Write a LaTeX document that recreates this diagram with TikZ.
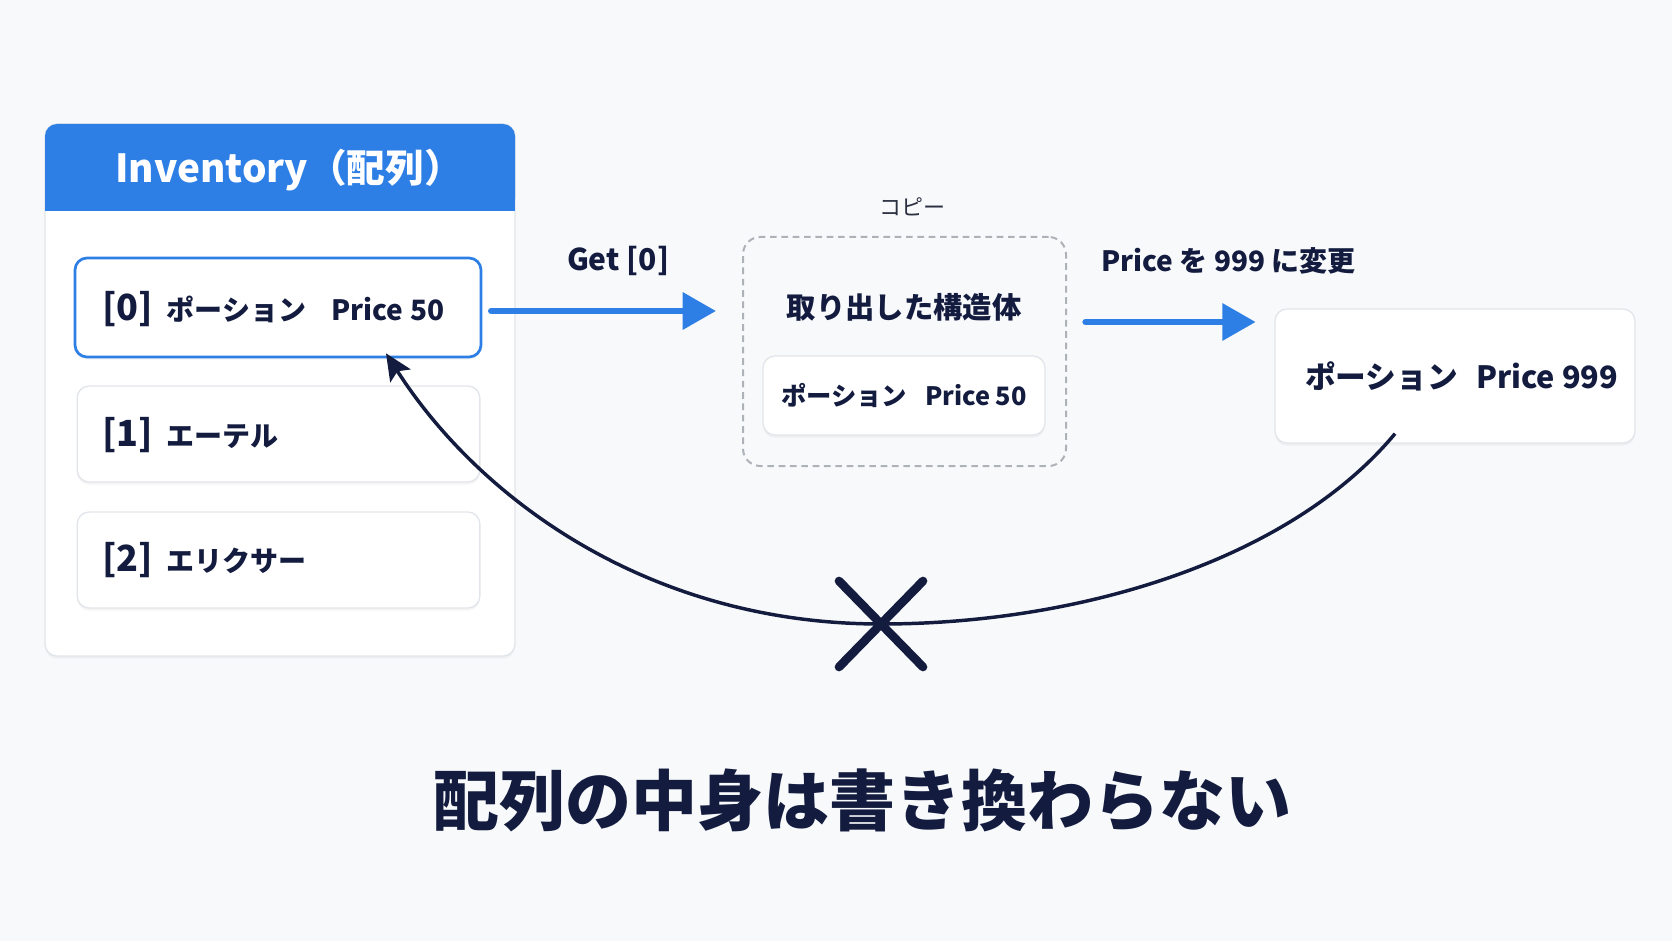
\documentclass[tikz,border=0pt]{standalone}
\usepackage{fontspec}
\setmainfont{Noto Sans CJK JP}
\usetikzlibrary{arrows.meta,shadows}

\definecolor{bgcol}{HTML}{F8F9FB}
\definecolor{hdrblue}{HTML}{2D7FE6}
\definecolor{navy}{HTML}{131C3F}
\definecolor{edgegray}{HTML}{E2E5EA}
\definecolor{dashgray}{HTML}{ADB2B9}
\definecolor{softgray}{HTML}{2B3040}

\newcommand{\fsz}[1]{\fontsize{#1}{1.2\dimexpr#1\relax}\selectfont}
\newcommand{\slotidx}[1]{{\fsz{27pt}#1}\hspace{0.5em}}

\tikzset{
  card/.style={draw=edgegray, line width=1pt, fill=white, rounded corners=9pt,
    drop shadow={opacity=0.08, shadow xshift=0pt, shadow yshift=-2pt}, inner sep=0pt},
  lbl/.style={inner sep=0.75pt, text=navy, font=\bfseries\fsz{21pt}},
  bluearrow/.style={draw=hdrblue, line width=5pt, line cap=round,
    -{Triangle[length=25pt,width=27pt]}},
  curvearrow/.style={draw=navy, line width=2.6pt,
    -{Stealth[length=20pt,width=18pt,inset=4pt]}},
  xstroke/.style={draw=navy, line width=6.5pt, line cap=round},
}

\begin{document}
\begin{tikzpicture}[x=0.75pt,y=0.75pt,yscale=-1,xscale=1]
% background, sets the size of the page
\path[fill=bgcol] (0,0) rectangle (1672,941);

% Inventory panel
\node[card, minimum width=352.5pt, minimum height=399pt] (panel) at (280,390) {};
\fill[hdrblue, rounded corners=9pt] (45,124) rectangle (515,211);
\fill[hdrblue] (45,170) rectangle (515,211);
\draw (289,170) node [inner sep=0.75pt, text=white, font=\bfseries\fsz{29pt}] (hdr) {Inventory（配列）};

% array slots
\node[card, draw=hdrblue, line width=2pt, minimum width=304.5pt, minimum height=74.25pt] (item0) at (278,307.5) {};
\node[card, minimum width=302pt, minimum height=72pt] (item1) at (278.5,434) {};
\node[card, minimum width=302pt, minimum height=72pt] (item2) at (278.5,560) {};
\draw (101,309) node [lbl, anchor=west] (txt0) {\slotidx{[0]}ポーション\hspace{0.9em}Price 50};
\draw (101,435) node [lbl, anchor=west] (txt1) {\slotidx{[1]}エーテル};
\draw (101,560) node [lbl, anchor=west] (txt2) {\slotidx{[2]}エリクサー};

% copied struct
\node[draw=dashgray, line width=1.5pt, dash pattern=on 5pt off 3.5pt, rounded corners=13pt,
  minimum width=242.25pt, minimum height=171.75pt] (copybox) at (904.5,351.5) {};
\draw (912,207) node [inner sep=0.75pt, text=softgray, font=\fsz{16.5pt}] (copylbl) {コピー};
\draw (904,307) node [lbl, font=\bfseries\fsz{22pt}] (structlbl) {取り出した構造体};
\node[card, text=navy, font=\bfseries\fsz{19pt}, minimum width=211.5pt, minimum height=59.25pt]
  (innerbox) at (904,395.5) {ポーション\hspace{0.7em}Price 50};

% changed copy
\node[card, text=navy, font=\bfseries\fsz{23pt}, minimum width=270pt, minimum height=100.5pt]
  (rbox) at (1455,376) {\hspace{10pt}ポーション\hspace{0.6em}Price 999};

% arrows
\coordinate (arow1) at (0,311);
\coordinate (arow2) at (0,322);
\draw[bluearrow, shorten <=6.75pt, shorten >=19.5pt] (item0.east |- arow1) -- (copybox.west |- arow1);
\draw[bluearrow, shorten <=14pt, shorten >=14pt] (copybox.east |- arow2) -- (rbox.west |- arow2);
\draw (618,261) node [lbl, font=\bfseries\fsz{22.5pt}] (getlbl) {Get [0]};
\draw (1100,261) node [lbl, anchor=west] (pricelbl) {Price を 999 に変更};

% write back that does not happen
\coordinate (xmark) at (881,624);
\draw[curvearrow] ([xshift=-45pt,yshift=-7.5pt]rbox.south) .. controls (1290,560) and (1080,624) .. (xmark)
  .. controls (650,624) and (480,500) .. ([xshift=81pt,yshift=-3.75pt]item0.south);
\draw[xstroke] (839,581) -- (923,667);
\draw[xstroke] (923,581) -- (839,667);

% Text Node
\draw (862,800) node [inner sep=0.75pt, text=navy, font=\bfseries\fsz{49.5pt}] (summary) {配列の中身は書き換わらない};

\end{tikzpicture}
\end{document}
